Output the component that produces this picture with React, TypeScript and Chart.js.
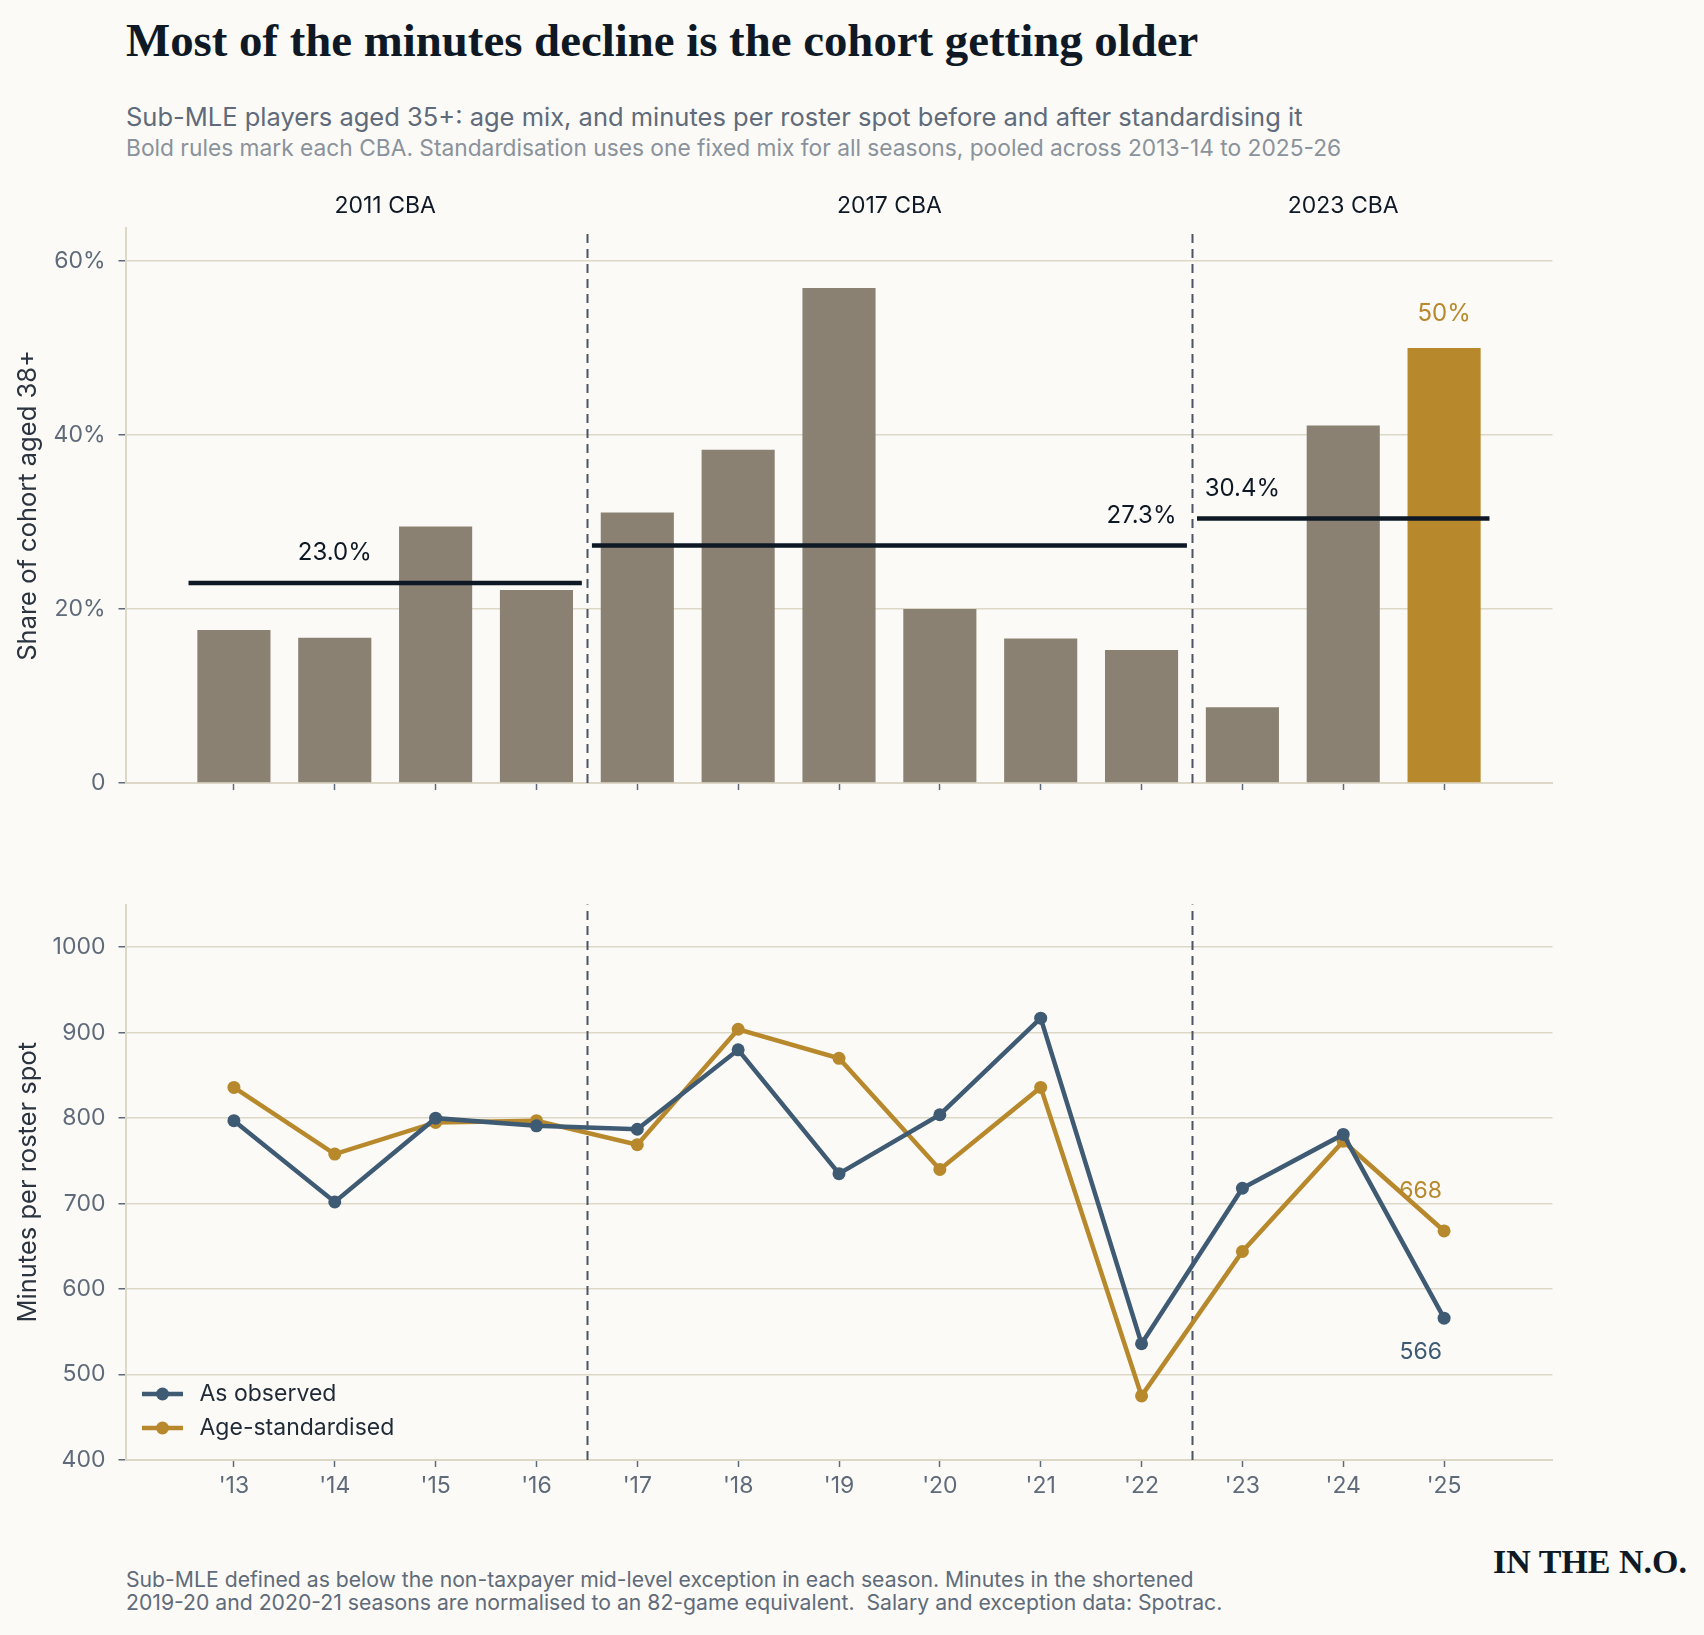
import React, { useEffect, useRef } from "react";
import { Chart, registerables } from "chart.js";

Chart.register(...registerables);

// Seasons (start year of each season)
const seasons = ["'13", "'14", "'15", "'16", "'17", "'18", "'19", "'20", "'21", "'22", "'23", "'24", "'25"];

// Share of the cohort aged 38+ (%)
const share38 = [17.6, 16.7, 29.5, 22.2, 31.1, 38.3, 56.9, 20.0, 16.6, 15.3, 8.7, 41.1, 50.0];

// Minutes per roster spot
const observed = [797, 702, 800, 791, 787, 880, 735, 804, 917, 536, 718, 781, 566];
const standardised = [836, 758, 795, 797, 769, 904, 870, 740, 836, 475, 644, 773, 668];

// CBA eras: first/last season index, pooled share and where its label sits
const cbaNames = ["2011 CBA", "2017 CBA", "2023 CBA"];
const cbaFirst = [0, 4, 10];
const cbaLast = [3, 9, 12];
const cbaMean = [23.0, 27.3, 30.4];
const cbaLabelAt = [1, 9, 10];

const shareTicks = [0, 20, 40, 60];
const minuteTicks = [400, 500, 600, 700, 800, 900, 1000];

const BG = "#fbfaf6";
const INK = "#0e1925";
const SLATE = "#5f6b7a";
const GRID = "#ddd7c8";
const TAUPE = "#8a8173";
const GOLD = "#b8892c";
const BLUE = "#3f5a73";

const X_MIN = -1.075;
const X_MAX = 13.075;

Chart.defaults.font.family = "Inter, 'Noto Sans', sans-serif";

const drawBreaks = (chart) => {
  const { ctx, chartArea, scales } = chart;
  ctx.save();
  ctx.strokeStyle = "#4b5563";
  ctx.lineWidth = 2;
  ctx.setLineDash([9, 6]);
  [3.5, 9.5].forEach((v) => {
    const px = Math.round(scales.x.getPixelForValue(v)) + 0.5;
    ctx.beginPath();
    ctx.moveTo(px, chartArea.bottom);
    ctx.lineTo(px, chartArea.top);
    ctx.stroke();
  });
  ctx.restore();
};

const xAxis = (showLabels, height) => ({
  type: "linear",
  offset: false,
  min: X_MIN,
  max: X_MAX,
  afterBuildTicks: (s) => {
    s.ticks = seasons.map((_, i) => ({ value: i }));
  },
  afterFit: (s) => {
    s.height = height;
  },
  grid: { offset: false, drawOnChartArea: false, drawTicks: true, tickLength: 7, tickColor: SLATE, tickWidth: 1.5 },
  border: { color: GRID, width: 2 },
  ticks: {
    autoSkip: false,
    maxRotation: 0,
    color: SLATE,
    font: { size: 23 },
    padding: 5,
    callback: (_v, i) => (showLabels ? seasons[i] : ""),
  },
});

const yAxis = (title, min, max, tickValues, fmt) => ({
  min,
  max,
  afterFit: (s) => {
    s.width = 125.5;
  },
  afterBuildTicks: (s) => {
    s.ticks = tickValues.map((v) => ({ value: v }));
  },
  grid: { color: GRID, lineWidth: 1.5, tickLength: 7, tickColor: SLATE, tickWidth: 1.5 },
  border: { color: GRID, width: 2 },
  ticks: { color: SLATE, font: { size: 23 }, padding: 13, callback: fmt },
  title: { display: true, text: title, color: "#2b3440", font: { size: 25.5 }, padding: { top: 13, bottom: 0 } },
});

const topDecor = {
  id: "topDecor",
  beforeDatasetsDraw: drawBreaks,
  afterDatasetsDraw(chart) {
    const { ctx, scales } = chart;
    const { x, y } = scales;
    ctx.save();
    ctx.textAlign = "center";
    ctx.textBaseline = "middle";
    ctx.fillStyle = INK;
    ctx.font = "23px Inter";
    cbaNames.forEach((n, i) => {
      ctx.fillText(n, x.getPixelForValue((cbaFirst[i] + cbaLast[i]) / 2), 46);
    });
    ctx.font = "24px Inter";
    cbaMean.forEach((m, i) => {
      ctx.fillText(m.toFixed(1) + "%", x.getPixelForValue(cbaLabelAt[i]), y.getPixelForValue(m) - 30);
    });
    const last = share38.length - 1;
    ctx.fillStyle = GOLD;
    ctx.fillText(Math.round(share38[last]) + "%", x.getPixelForValue(last), y.getPixelForValue(share38[last]) - 34);
    ctx.restore();
  },
};

const legendItems = [
  { label: "As observed", color: BLUE },
  { label: "Age-standardised", color: GOLD },
];

const bottomDecor = {
  id: "bottomDecor",
  beforeDatasetsDraw: drawBreaks,
  afterDatasetsDraw(chart) {
    const { ctx, scales, chartArea } = chart;
    const { x, y } = scales;
    const last = seasons.length - 1;
    ctx.save();
    ctx.font = "23px Inter";
    ctx.textBaseline = "middle";
    ctx.textAlign = "right";
    ctx.fillStyle = GOLD;
    ctx.fillText(String(standardised[last]), x.getPixelForValue(last) - 2, y.getPixelForValue(standardised[last]) - 40);
    ctx.fillStyle = BLUE;
    ctx.fillText(String(observed[last]), x.getPixelForValue(last) - 2, y.getPixelForValue(observed[last]) + 34);

    // legend, lower left inside the plot
    ctx.textAlign = "left";
    legendItems.forEach((it, i) => {
      const ly = chartArea.bottom - 66 + i * 34;
      const lx = chartArea.left + 16.5;
      ctx.strokeStyle = it.color;
      ctx.lineWidth = 4.5;
      ctx.beginPath();
      ctx.moveTo(lx, ly);
      ctx.lineTo(lx + 41, ly);
      ctx.stroke();
      ctx.fillStyle = it.color;
      ctx.beginPath();
      ctx.arc(lx + 20.5, ly, 6.5, 0, Math.PI * 2);
      ctx.fill();
      ctx.fillStyle = "#1f2a36";
      ctx.fillText(it.label, lx + 57.5, ly);
    });
    ctx.restore();
  },
};

const topConfig = () => ({
  type: "bar",
  data: {
    datasets: [
      {
        type: "bar",
        data: share38.map((v, i) => ({ x: i, y: v })),
        backgroundColor: share38.map((_, i) => (i === share38.length - 1 ? GOLD : TAUPE)),
        barPercentage: 0.725,
        categoryPercentage: 1,
        order: 2,
      },
      ...cbaMean.map((m, i) => ({
        type: "line",
        data: [
          { x: cbaFirst[i] - 0.45, y: m },
          { x: cbaLast[i] + 0.45, y: m },
        ],
        borderColor: INK,
        borderWidth: 4.5,
        pointRadius: 0,
        order: 1,
      })),
    ],
  },
  options: {
    animation: false,
    responsive: false,
    maintainAspectRatio: false,
    layout: { padding: { left: 0, right: 151.5, top: 68, bottom: 0 } },
    plugins: { legend: { display: false }, tooltip: { enabled: false } },
    scales: {
      x: xAxis(false, 37),
      y: yAxis("Share of cohort aged 38+", 0, 63.8, shareTicks, (v) => (v === 0 ? "0" : v + "%")),
    },
  },
  plugins: [topDecor],
});

const lineStyle = (color) => ({
  borderColor: color,
  backgroundColor: color,
  borderWidth: 4.5,
  pointRadius: 6.5,
  pointBorderWidth: 0,
  pointBackgroundColor: color,
  tension: 0,
});

const bottomConfig = () => ({
  type: "line",
  data: {
    datasets: [
      { label: "As observed", data: observed.map((v, i) => ({ x: i, y: v })), ...lineStyle(BLUE), order: 1 },
      { label: "Age-standardised", data: standardised.map((v, i) => ({ x: i, y: v })), ...lineStyle(GOLD), order: 2 },
    ],
  },
  options: {
    animation: false,
    responsive: false,
    maintainAspectRatio: false,
    layout: { padding: { left: 0, right: 151.5, top: 44.5, bottom: 0 } },
    plugins: { legend: { display: false }, tooltip: { enabled: false } },
    scales: {
      x: xAxis(true, 80),
      y: yAxis("Minutes per roster spot", 400, 1050, minuteTicks, (v) => String(v)),
    },
  },
  plugins: [bottomDecor],
});

function ChartCanvas({ makeConfig, top, height }) {
  const ref = useRef(null);
  useEffect(() => {
    const chart = new Chart(ref.current, makeConfig());
    return () => chart.destroy();
  }, [makeConfig]);
  return (
    <canvas
      ref={ref}
      width={1704}
      height={height}
      style={{ position: "absolute", left: 0, top, width: 1704, height }}
    />
  );
}

const text = (extra) => ({ position: "absolute", margin: 0, whiteSpace: "nowrap", lineHeight: 1, ...extra });

export default function App() {
  return (
    <div style={{ position: "absolute", left: 0, top: 0, width: 1704, height: 1635, background: BG, overflow: "hidden" }}>
      <div style={text({ left: 126, top: 17, fontFamily: "'Liberation Serif', serif", fontWeight: 700, fontSize: 46.8, color: INK })}>
        Most of the minutes decline is the cohort getting older
      </div>
      <div style={text({ left: 126, top: 104, fontFamily: "Inter, sans-serif", fontSize: 25.5, color: SLATE })}>
        Sub-MLE players aged 35+: age mix, and minutes per roster spot before and after standardising it
      </div>
      <div style={text({ left: 126, top: 137.3, fontFamily: "Inter, sans-serif", fontSize: 22.75, color: "#8a929c" })}>
        Bold rules mark each CBA. Standardisation uses one fixed mix for all seasons, pooled across 2013-14 to 2025-26
      </div>

      <ChartCanvas makeConfig={topConfig} top={160} height={660} />
      <ChartCanvas makeConfig={bottomConfig} top={860} height={680} />

      <div style={text({ left: 126, top: 1569, fontFamily: "Inter, sans-serif", fontSize: 21.2, color: SLATE })}>
        Sub-MLE defined as below the non-taxpayer mid-level exception in each season. Minutes in the shortened
      </div>
      <div style={text({ left: 126, top: 1592, fontFamily: "Inter, sans-serif", fontSize: 21.2, color: SLATE })}>
        2019-20 and 2020-21 seasons are normalised to an 82-game equivalent.&nbsp; Salary and exception data: Spotrac.
      </div>
      <div style={text({ right: 17, top: 1545, fontFamily: "'Liberation Serif', serif", fontWeight: 700, fontSize: 34, color: INK })}>
        IN THE N.O.
      </div>
    </div>
  );
}
